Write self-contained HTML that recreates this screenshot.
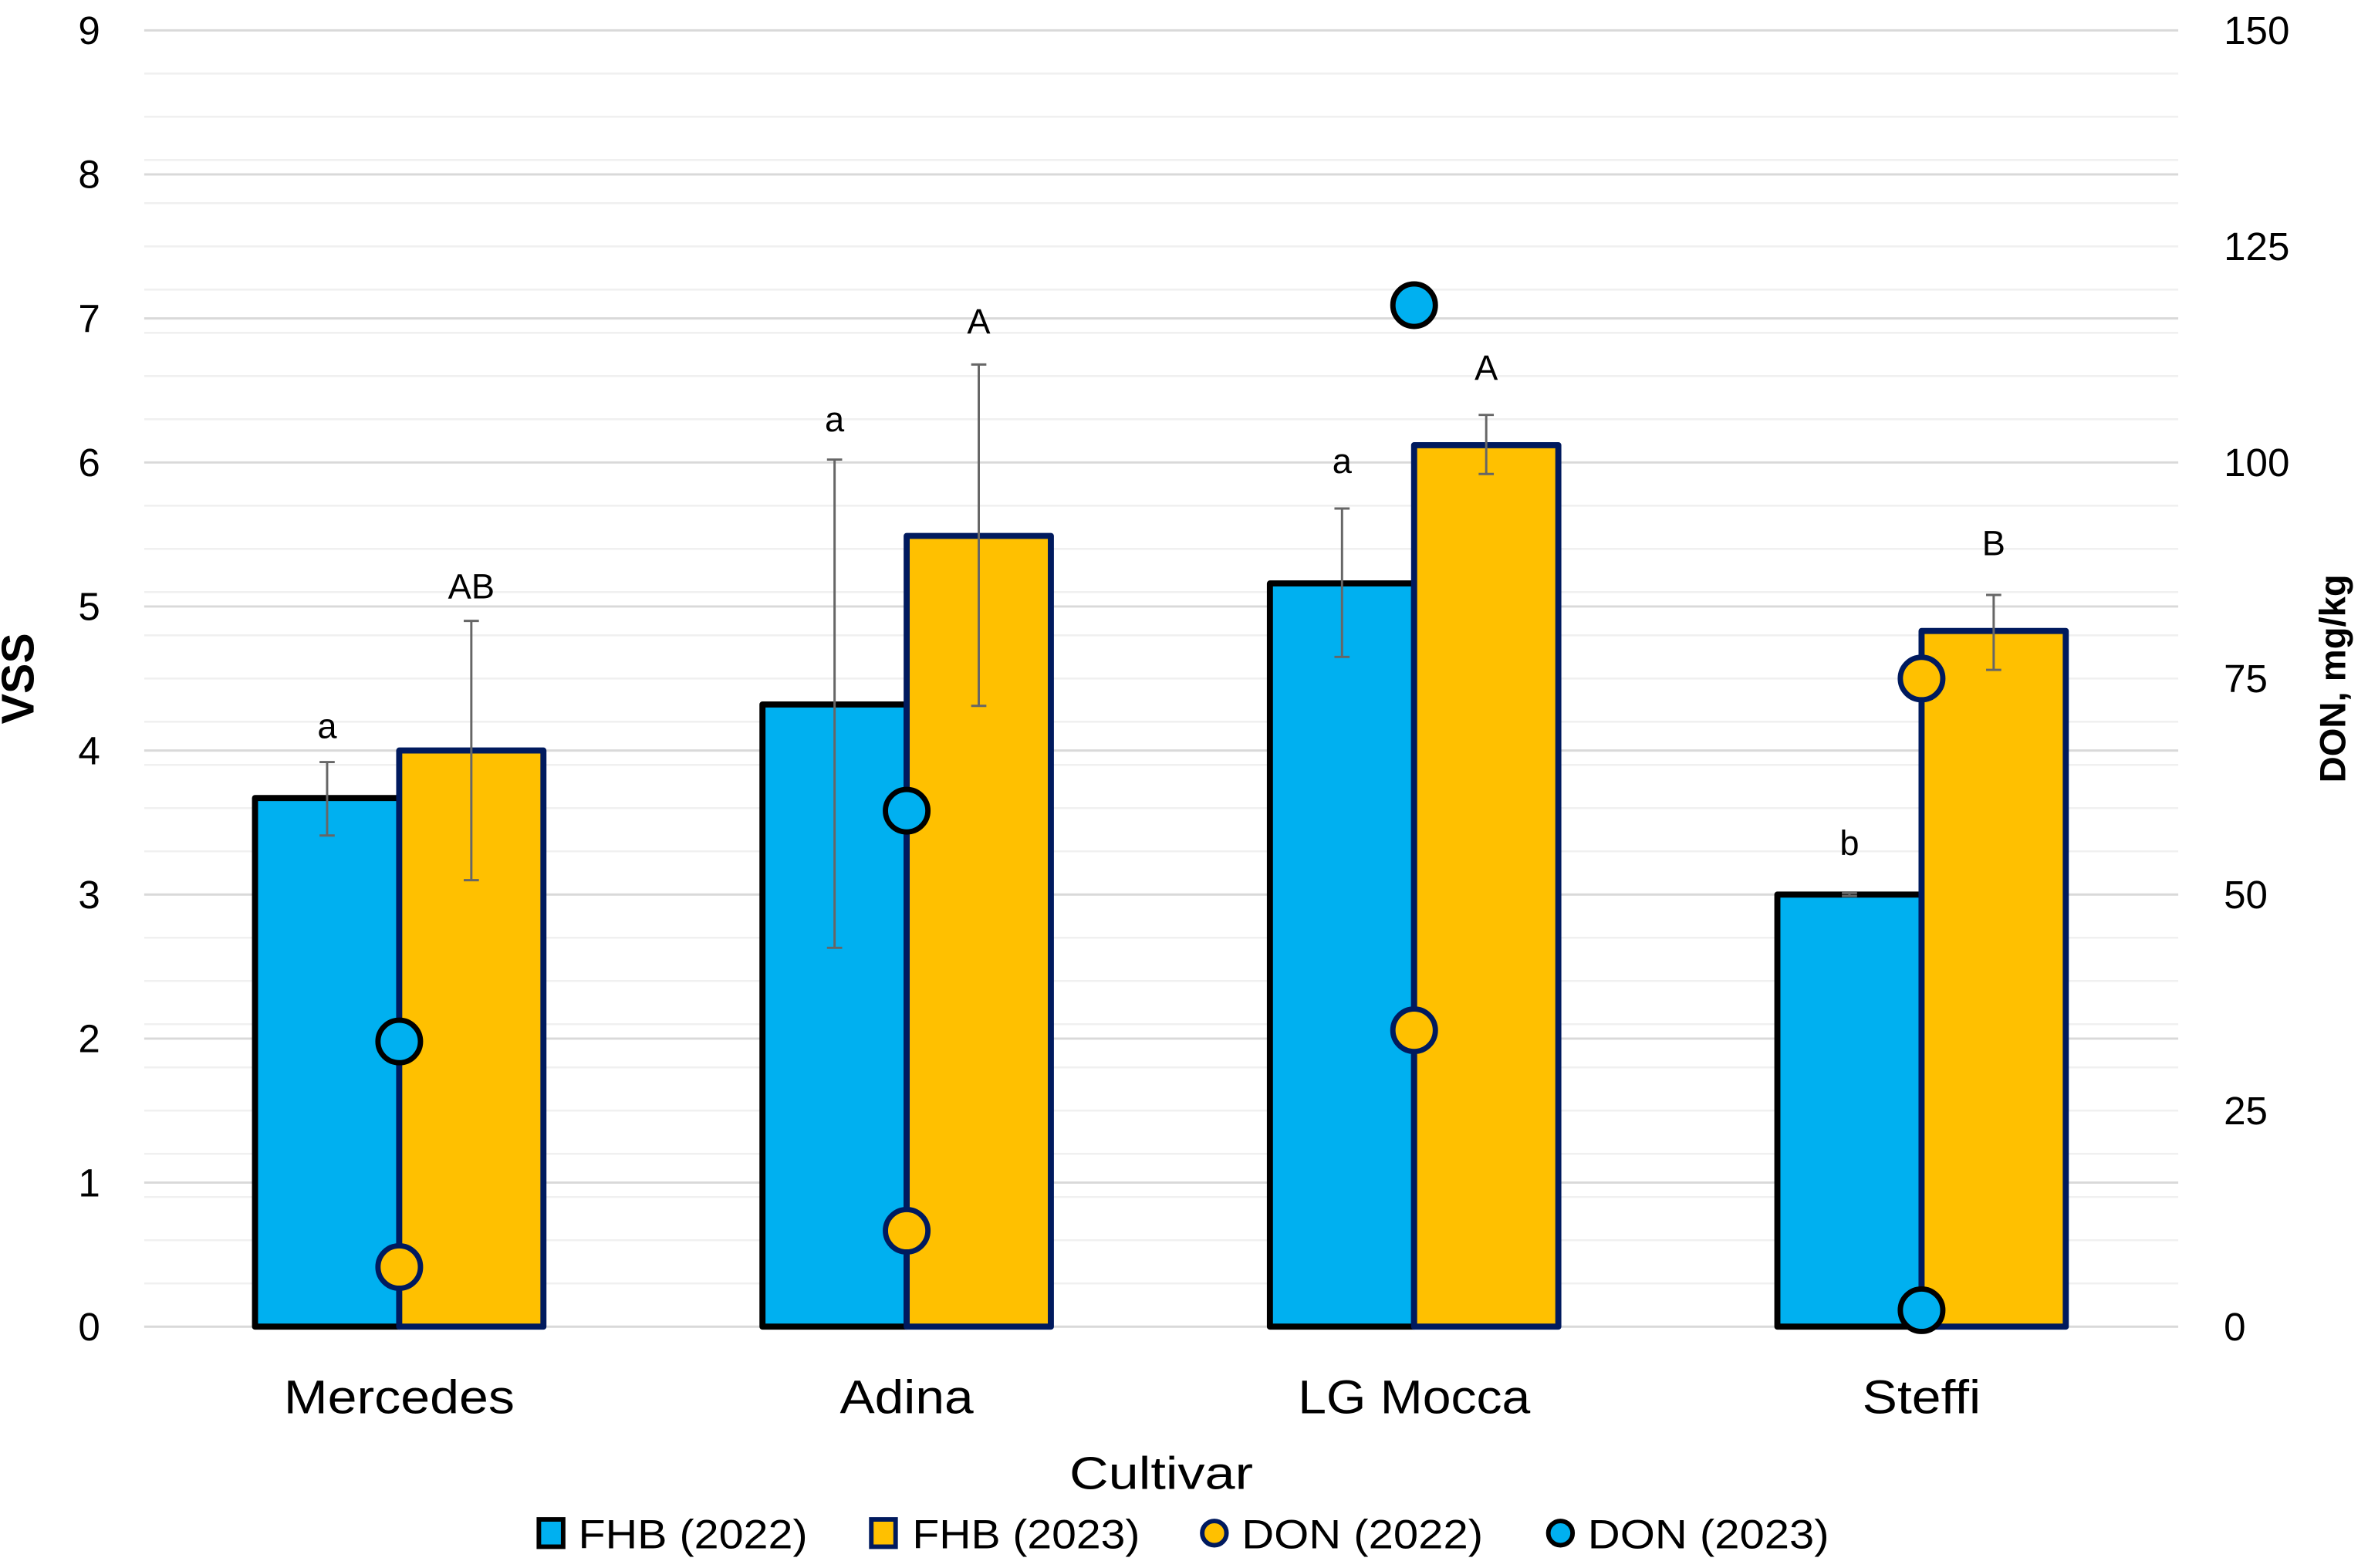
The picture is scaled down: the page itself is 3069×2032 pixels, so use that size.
<!DOCTYPE html>
<html><head><meta charset="utf-8"><style>
html,body{margin:0;padding:0;background:#fff}
svg{display:block}
text{font-family:"Liberation Sans",Arial,sans-serif;fill:#000}
</style></head><body>
<svg id="chart" width="3069" height="2032" viewBox="0 0 1560 1033" preserveAspectRatio="none" xmlns="http://www.w3.org/2000/svg">
<g id="grid"></g>
<g id="bars"></g>
<g id="errs"></g>
<g id="pts"></g>
<g id="axes"></g>
<text x="22" y="447" font-size="30" font-weight="bold" text-anchor="middle" transform="rotate(-90 22 447)">VSS</text>
<text x="1545" y="447" font-size="24" font-weight="bold" text-anchor="middle" transform="rotate(-90 1545 447)">DON, mg/kg</text>
<text x="765" y="981" font-size="30" text-anchor="middle" textLength="121" lengthAdjust="spacingAndGlyphs">Cultivar</text>
<g>
 <g><rect x="355" y="1001" width="16" height="18" fill="#00b0f0" stroke="#000" stroke-width="3"/><text x="381" y="1020" font-size="27" textLength="151" lengthAdjust="spacingAndGlyphs">FHB (2022)</text></g>
 <g><rect x="574" y="1001" width="16" height="18" fill="#ffc000" stroke="#001a5e" stroke-width="3"/><text x="601" y="1020" font-size="27" textLength="150" lengthAdjust="spacingAndGlyphs">FHB (2023)</text></g>
 <g><circle cx="800" cy="1010" r="8" fill="#ffc000" stroke="#001a5e" stroke-width="3"/><text x="818" y="1020" font-size="27" textLength="159" lengthAdjust="spacingAndGlyphs">DON (2022)</text></g>
 <g><circle cx="1028" cy="1010" r="8" fill="#00b0f0" stroke="#000" stroke-width="3"/><text x="1046" y="1020" font-size="27" textLength="159" lengthAdjust="spacingAndGlyphs">DON (2023)</text></g>
</g>
</svg>
<script>
const categories = ["Mercedes","Adina","LG Mocca","Steffi"];
const fhb2022 = [3.67,4.32,5.16,3.0];
const fhb2023 = [4.0,5.49,6.12,4.83];
const err2022Low = [3.41,2.63,4.65,2.99];
const err2022High = [3.92,6.02,5.68,3.01];
const err2023Low = [3.1,4.31,5.92,4.56];
const err2023High = [4.9,6.68,6.33,5.08];
const letters2022 = ["a","a","a","b"];
const letters2023 = ["AB","A","A","B"];
const letterLevel2022 = [4.17,6.30,6.01,3.36];
const letterLevel2023 = [5.14,6.98,6.66,5.44];
const don2022 = [6.9,11.1,34.3,75.0];
const don2023 = [33.0,59.7,118.2,1.9];
const leftTicks = [0,1,2,3,4,5,6,7,8,9];
const rightTicks = [0,25,50,75,100,125,150];

const NS="http://www.w3.org/2000/svg";
const X0=95,X1=1435,YB=874,YT=20;
const yL=v=>YB-(v/9)*(YB-YT);
const yR=v=>YB-(v/150)*(YB-YT);
const xC=i=>263+i*334.3;
const BW=95;
const catW={"Mercedes":152,"Adina":88,"LG Mocca":153,"Steffi":78};
function mk(tag,attrs,parent){const e=document.createElementNS(NS,tag);for(const k in attrs)e.setAttribute(k,attrs[k]);parent.appendChild(e);return e;}
const grid=document.getElementById('grid'),bars=document.getElementById('bars'),errs=document.getElementById('errs'),pts=document.getElementById('pts'),axes=document.getElementById('axes');

for(let d=5;d<150;d+=5){
  const l=mk('line',{x1:X0,x2:X1,y1:yR(d),y2:yR(d),stroke:'#f0f0f0','stroke-width':1.3},grid);
  
  
}
leftTicks.forEach(v=>{
  const l=mk('line',{x1:X0,x2:X1,y1:yL(v),y2:yL(v),stroke:'#d9d9d9','stroke-width':1.5},grid);
  
  
  const t=mk('text',{x:66,y:yL(v)+9,'font-size':26,'text-anchor':'end'},axes);
  t.textContent=v;
  
  
});
rightTicks.forEach(v=>{
  const t=mk('text',{x:1465,y:yR(v)+9,'font-size':26},axes);
  t.textContent=v;
  
  
});
categories.forEach((c,i)=>{
  const cx=xC(i);
  const t=mk('text',{x:cx,y:931,'font-size':31,'text-anchor':'middle',textLength:catW[c]||100,lengthAdjust:'spacingAndGlyphs'},axes);
  t.textContent=c;
  
  
  const b1=mk('rect',{x:cx-BW,y:yL(fhb2022[i]),width:BW,height:YB-yL(fhb2022[i]),fill:'#00b0f0',stroke:'#000','stroke-width':4,'stroke-linejoin':'round'},bars);
  
  
  const b2=mk('rect',{x:cx,y:yL(fhb2023[i]),width:BW,height:YB-yL(fhb2023[i]),fill:'#ffc000',stroke:'#001a5e','stroke-width':4,'stroke-linejoin':'round'},bars);
  
  
  [[cx-BW/2,err2022Low[i],err2022High[i],letters2022[i],letterLevel2022[i]],[cx+BW/2,err2023Low[i],err2023High[i],letters2023[i],letterLevel2023[i]]].forEach(([ex,lo,hi,lt,lv])=>{
    const g=mk('g',{stroke:'#666','stroke-width':1.5},errs);
    
    
    mk('line',{x1:ex,x2:ex,y1:yL(lo),y2:yL(hi)},g);
    mk('line',{x1:ex-5,x2:ex+5,y1:yL(lo),y2:yL(lo)},g);
    mk('line',{x1:ex-5,x2:ex+5,y1:yL(hi),y2:yL(hi)},g);
    const lt2=mk('text',{x:ex,y:yL(lv)+8,'font-size':23,'text-anchor':'middle'},errs);
    lt2.textContent=lt;
    
    
  });
});
categories.forEach((c,i)=>{
  const p1=mk('circle',{cx:xC(i),cy:yR(don2022[i]),r:14,fill:'#ffc000',stroke:'#001a5e','stroke-width':3.5},pts);
  
  
  const p2=mk('circle',{cx:xC(i),cy:yR(don2023[i]),r:14,fill:'#00b0f0',stroke:'#000','stroke-width':3.5},pts);
  
  
});
</script>
</body></html>
